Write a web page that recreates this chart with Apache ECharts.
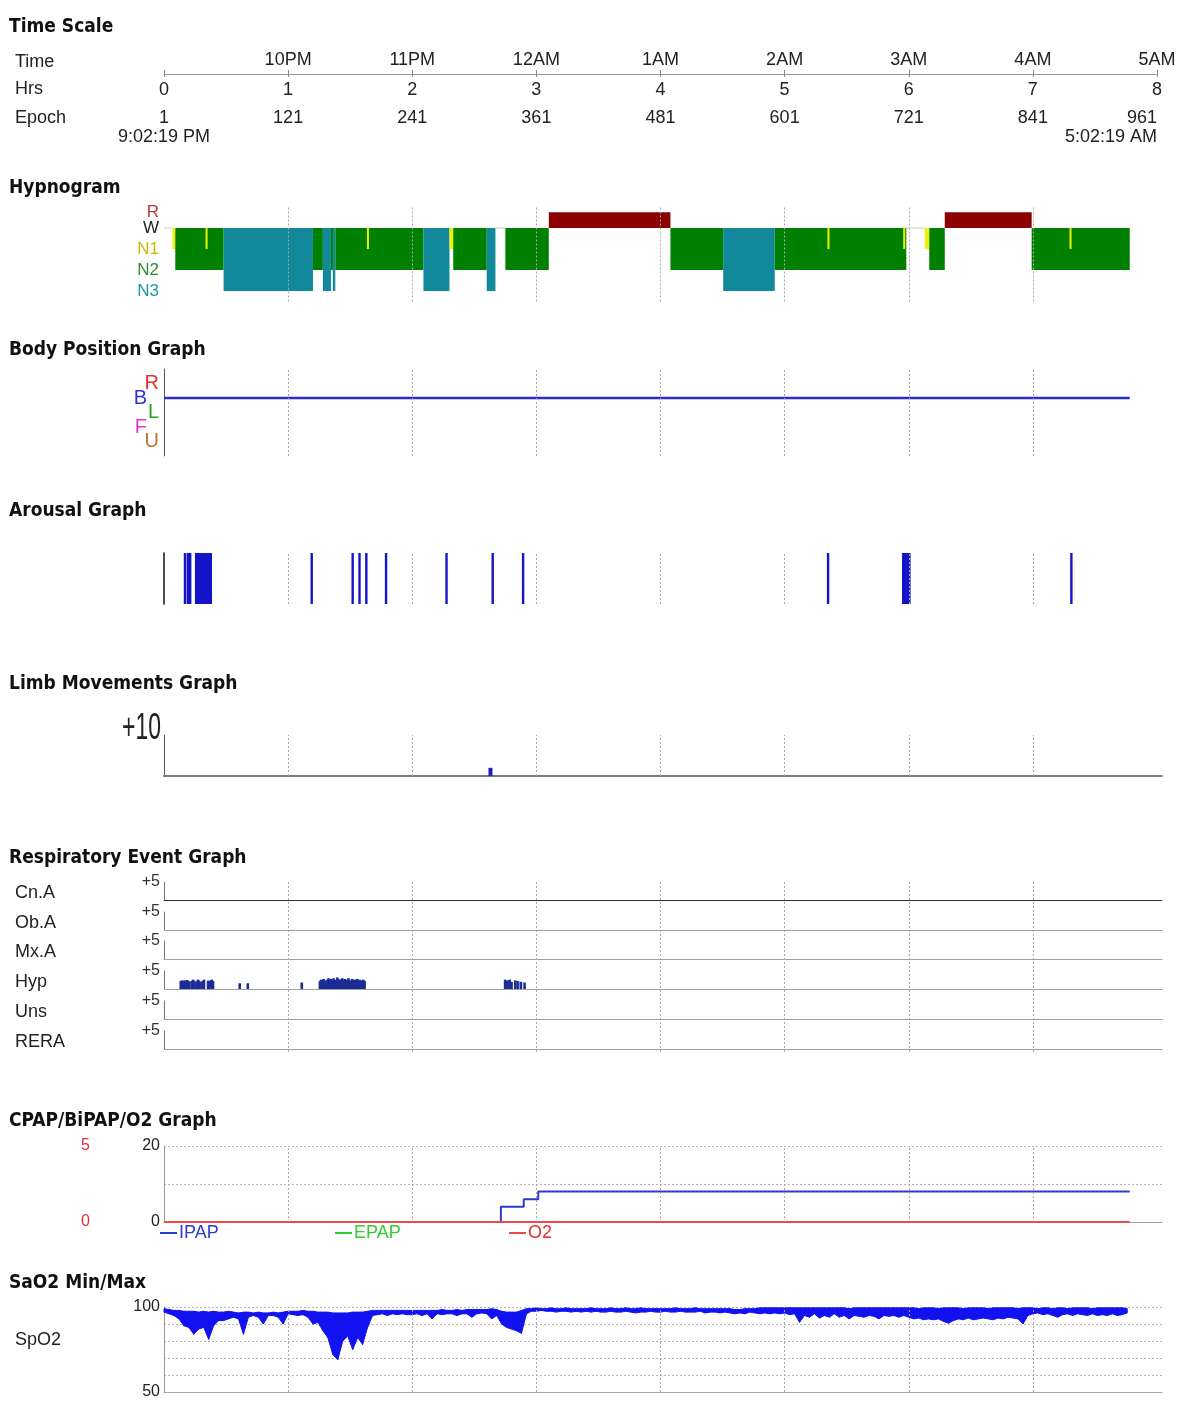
<!DOCTYPE html>
<html>
<head>
<meta charset="utf-8">
<script src="https://cdn.jsdelivr.net/npm/echarts@6/dist/echarts.min.js"></script>
<style>
  html, body { margin: 0; padding: 0; background: #fff; }
  #chart { width: 1183px; height: 1416px; }
</style>
</head>
<body>
<div id="chart"></div>
<script>
// ---------------- study data (hours from lights-out) ----------------
const hourTicks = [0, 1, 2, 3, 4, 5, 6, 7, 8];
const clockLabels = ['', '10PM', '11PM', '12AM', '1AM', '2AM', '3AM', '4AM', '5AM'];
const epochLabels = ['1', '121', '241', '361', '481', '601', '721', '841', '961'];
const startClock = '9:02:19 PM';
const endClock = '5:02:19 AM';
const hourGridLines = [1, 2, 3, 4, 5, 6, 7];

const panelTitles = ['Time Scale', 'Hypnogram', 'Body Position Graph', 'Arousal Graph',
  'Limb Movements Graph', 'Respiratory Event Graph', 'CPAP/BiPAP/O2 Graph', 'SaO2 Min/Max'];
const timeRowNames = ['Time', 'Hrs', 'Epoch'];

// sleep stages: name -> plotted level (W is the baseline, R sits above it)
const stageNames = ['R', 'W', 'N1', 'N2', 'N3'];
const stageLevels = [0.75, 0, -1, -2, -3];
// [stage, start hr, end hr]
const hypnogram = [
  ['W', 0, 0.068], ['N1', 0.068, 0.091], ['N2', 0.091, 0.48], ['N3', 0.48, 1.20],
  ['N2', 1.20, 1.28], ['N3', 1.28, 1.345], ['N2', 1.345, 1.36], ['N3', 1.36, 1.38],
  ['N2', 1.38, 2.09], ['N3', 2.09, 2.30], ['N1', 2.30, 2.33], ['N2', 2.33, 2.60],
  ['N3', 2.60, 2.67], ['W', 2.67, 2.75], ['N2', 2.75, 3.10], ['R', 3.10, 4.08],
  ['N2', 4.08, 4.505], ['N3', 4.505, 4.92], ['N2', 4.92, 5.98], ['W', 5.98, 6.13],
  ['N1', 6.13, 6.165], ['N2', 6.165, 6.29], ['R', 6.29, 6.99], ['N2', 6.99, 7.78]
];
// single-epoch N1 shifts marked inside the N2 stretches
const briefN1 = [[0.335, 0.345], [1.635, 1.645], [5.345, 5.355], [5.955, 5.965], [7.295, 7.305]];

// body position: levels U=0, F=1, L=2, B=3, R=4
const positionNames = ['U', 'F', 'L', 'B', 'R'];
const bodyPosition = [[0, 'B'], [7.78, 'B']];

// arousal onsets (hr)
const arousals = [0.169, 0.192, 0.211, 0.259, 0.268, 0.277, 0.286, 0.295, 0.304, 0.313,
  0.322, 0.332, 0.344, 0.352, 0.36, 0.368, 0.377, 1.19, 1.52, 1.575, 1.63, 1.789,
  2.276, 2.648, 2.893, 5.35, 5.955, 5.965, 5.975, 5.985, 5.995, 6.005, 7.31];

// limb movements [hr, count]
const limbMovements = [[2.63, 2]];

// respiratory events [hr, height]
const respRows = ['Cn.A', 'Ob.A', 'Mx.A', 'Hyp', 'Uns', 'RERA'];
const centralApneas = [];
const obstructiveApneas = [];
const mixedApneas = [];
const hypopneas = [
  [0.135, 2.2], [0.145, 2.4], [0.155, 2.0], [0.165, 2.4], [0.175, 2.2], [0.185, 2.5], [0.195, 2.3], [0.205, 2.1],
  [0.225, 2.3], [0.235, 2.6], [0.245, 2.2],
  [0.262, 2.0], [0.272, 2.6], [0.282, 2.4], [0.292, 2.0],
  [0.31, 2.2], [0.322, 2.6],
  [0.355, 2.3], [0.365, 2.0], [0.375, 2.4], [0.385, 2.6], [0.395, 2.2],
  [0.61, 1.6], [0.675, 1.6], [1.11, 1.8],
  [1.256, 2.2], [1.266, 2.6], [1.276, 2.4], [1.286, 2.8], [1.296, 2.4], [1.306, 2.0], [1.316, 2.6],
  [1.326, 3.0], [1.336, 2.4], [1.346, 2.8], [1.356, 2.2], [1.366, 3.0], [1.376, 2.6], [1.386, 2.4],
  [1.396, 3.2], [1.406, 2.8], [1.416, 2.2], [1.426, 2.6], [1.436, 3.0], [1.446, 2.4], [1.456, 2.8],
  [1.466, 2.2], [1.476, 2.6], [1.486, 3.0], [1.496, 2.4], [1.506, 2.0], [1.516, 2.8], [1.526, 2.4],
  [1.536, 2.6], [1.546, 2.2], [1.556, 2.8], [1.566, 2.4], [1.576, 2.6], [1.586, 2.2], [1.596, 2.4],
  [1.606, 2.6], [1.616, 2.2],
  [2.748, 2.6], [2.758, 2.2], [2.768, 2.4], [2.785, 2.6], [2.80, 2.0], [2.83, 2.4], [2.85, 2.2],
  [2.875, 2.0], [2.905, 1.8]
];
const unsureEvents = [];
const reraEvents = [];

// PAP / oxygen settings [hr, value]
const ipap = [[2.714, 0], [2.714, 4], [2.898, 6], [3.015, 8], [7.78, 8]];
const epap = [];
const o2Flow = [[0, 0], [7.78, 0]];

// SpO2 min/max per 0.04 hr bin, starting at 0 hr
const spo2BinHours = 0.04;
const spo2Max = [
  99, 98.5, 98, 98, 97.5, 97.5, 97.5, 97, 97.5, 97, 97.5, 97, 97, 97.5, 97, 96.5, 97, 97, 96.5, 97, 96.5, 96.5, 97, 96.5, 97,
  97.5, 97.5, 97.5, 98, 97.5, 97.5, 97, 97, 97, 96.5, 96.5, 96.5, 96.5, 97, 97, 97, 97.5, 98, 98, 98, 98, 98, 98, 98, 98,
  98, 98, 98, 98, 98, 98, 98.5, 98, 98, 98.5, 98, 98.5, 98.5, 98.5, 98.5, 98.5, 99, 98.5, 97.5, 97, 97, 97, 98, 99, 99,
  99.5, 99, 99, 99.5, 99, 99, 99.5, 99, 99, 99, 99, 99.5, 99, 99, 99, 99.5, 99, 99, 99.5, 99, 99, 99.5, 99, 99, 99,
  99, 99, 99, 99.5, 99, 99, 99, 99.5, 99, 99, 99, 99, 99, 99, 99, 98.5, 98.5, 99, 99, 99, 99.5, 99.5, 99.5, 99.5, 99.5,
  99.5, 99.5, 99.5, 99.5, 99.5, 99.5, 99.5, 99.5, 99.5, 99.5, 99.5, 99.5, 99.5, 99, 99.5, 99.5, 99.5, 99.5, 99.5, 99.5, 99.5, 99.5, 99.5, 99.5, 99.5,
  99.5, 99.5, 99, 99.5, 99.5, 99.5, 99, 99.5, 99.5, 99.5, 99.5, 99, 99.5, 99.5, 99.5, 99.5, 99, 99.5, 99.5, 99.5, 99.5, 99.5, 99, 99.5, 99.5,
  99.5, 99, 99.5, 99.5, 99, 99.5, 99.5, 99, 99.5, 99.5, 99.5, 99.5, 99, 99.5, 99.5, 99.5, 99.5, 99.5, 99.5, 99
];
const spo2Min = [
  97, 96, 95, 93, 89, 88, 84, 87, 88, 81, 89, 92, 92, 93, 94, 93, 84, 94, 95, 94, 90, 95, 95, 94, 90,
  96, 95.5, 95, 95.5, 94, 90, 91, 86, 82, 72, 69, 80, 83, 75, 82, 78, 88, 95, 95.5, 96, 95, 96, 95.5, 96, 95.5,
  95.5, 96, 95, 96, 93, 96, 95.5, 96, 96, 95, 96, 96, 94, 96, 96.5, 96, 93, 95, 90, 88, 87, 86, 84.5, 96, 97.5,
  97.5, 98, 97.5, 97.5, 97, 97.5, 97.5, 97, 97.5, 97, 97.5, 97, 97.5, 97, 97, 97.5, 97, 97, 97.5, 97, 96.5, 97, 97, 97.5, 97,
  97, 97.5, 97, 97, 97.5, 97, 97, 97, 97.5, 96.5, 97, 97, 96.5, 97, 96.5, 96, 96.5, 96, 97, 96.5, 96, 96.5, 96, 96.5, 96,
  96.5, 95.5, 96, 91, 95, 94, 96, 93.5, 95, 94, 96, 94, 95, 93, 95, 94.5, 94, 95, 94.5, 93, 95, 94.5, 95, 94, 95,
  94, 93, 93.5, 92.5, 93, 92.5, 93, 91.5, 90.5, 92, 93, 92.5, 93.5, 92.5, 93, 93.5, 93, 92.5, 93.5, 93, 94, 93.5, 93, 90, 95,
  96, 96.5, 95.5, 96, 95, 94, 95.5, 96, 95, 96, 95.5, 95, 96, 95, 95.5, 95, 96, 95, 95.5, 96.5
];

// ---------------- layout and styles ----------------
const FONT = '"Liberation Sans", Arial, sans-serif';
const TITLE_FONT = '"DejaVu Sans Condensed", "DejaVu Sans", sans-serif';
const PLOT_LEFT = 164;
const PLOT_WIDTH = 998;      // 0 .. 8.04 h
const X_MAX = 8.04;
const titleTops = [18, 179, 341, 502, 675, 849, 1112, 1274];
const timeRowTops = [53, 80, 109];
const respRowTops = [882, 912, 941, 971, 1001, 1031];

const stageColors = ['#8b0000', '#c8c8c8', '#eef200', '#008000', '#12899a'];
const stageLabelColors = { R: '#b23a3a', W: '#222222', N1: '#c9b800', N2: '#2f8f2f', N3: '#1a9aa0' };
const positionLabelColors = { R: '#e83030', B: '#3333cc', L: '#22aa22', F: '#dd33dd', U: '#b8742a' };
const DOT = [2, 2];

const grids = [], xAxes = [], yAxes = [], series = [], titles = [], graphics = [];

function addGrid(top, height, xOpts, yOpts) {
  const g = grids.length;
  grids.push({ left: PLOT_LEFT, top: top, width: PLOT_WIDTH, height: height,
    containLabel: false, outerBoundsMode: 'none' });
  xAxes.push(Object.assign({ gridIndex: g, type: 'value', min: 0, max: X_MAX, show: false }, xOpts || {}));
  yAxes.push(Object.assign({ gridIndex: g, type: 'value', position: 'left', splitLine: { show: false } }, yOpts || {}));
  return { x: xAxes.length - 1, y: yAxes.length - 1, g: g };
}
function baseLineX(color, width) {
  return { show: true, axisLine: { show: true, onZero: false, lineStyle: { color: color, width: width || 1 } },
    axisTick: { show: false }, axisLabel: { show: false }, splitLine: { show: false } };
}
function hourLines(ax) {
  series.push({ type: 'line', xAxisIndex: ax.x, yAxisIndex: ax.y, data: [], silent: true,
    markLine: { silent: true, symbol: ['none', 'none'], label: { show: false }, emphasis: { disabled: true },
      lineStyle: { color: '#a9a9a9', type: DOT, width: 1 },
      data: hourGridLines.map(function (h) { return { xAxis: h }; }) } });
}
function near(a, b) { return Math.abs(a - b) < 1e-6; }

// ---- titles & row names ----
panelTitles.forEach(function (t, i) {
  titles.push({ text: t, left: 9, top: titleTops[i], padding: 0,
    textStyle: { fontFamily: TITLE_FONT, fontWeight: 'bold', fontSize: 19, color: '#111' } });
});
function rowName(text, top) {
  titles.push({ text: text, left: 15, top: top, padding: 0,
    textStyle: { fontFamily: FONT, fontWeight: 'normal', fontSize: 18, color: '#222' } });
}
timeRowNames.forEach(function (t, i) { rowName(t, timeRowTops[i]); });
respRows.forEach(function (t, i) { rowName(t, respRowTops[i] + 2); });
rowName('SpO2', 1331);

// ---- time scale ----
const timeLabelStyle = { fontFamily: FONT, fontSize: 18, color: '#222' };
grids.push({ left: PLOT_LEFT, top: 73, width: 993, height: 1, containLabel: false, outerBoundsMode: 'none' });
const tg = grids.length - 1;
yAxes.push({ gridIndex: tg, type: 'value', show: false });
const timeAxisBase = { gridIndex: tg, type: 'value', min: 0, max: 8, interval: 1, splitLine: { show: false } };
xAxes.push(Object.assign({}, timeAxisBase, { position: 'top',
  axisLine: { show: true, lineStyle: { color: '#9c9c9c' } },
  axisTick: { show: true, length: 4, lineStyle: { color: '#888' } },
  axisLabel: Object.assign({ margin: 4, showMinLabel: true, showMaxLabel: true,
    formatter: function (v) { return clockLabels[hourTicks.indexOf(v)] || ''; } }, timeLabelStyle) }));
xAxes.push(Object.assign({}, timeAxisBase, { position: 'bottom',
  axisLine: { show: false }, axisTick: { show: true, length: 3, lineStyle: { color: '#888' } },
  axisLabel: Object.assign({ margin: 7, showMinLabel: true, showMaxLabel: true,
    formatter: function (v) { return String(v); } }, timeLabelStyle) }));
xAxes.push(Object.assign({}, timeAxisBase, { position: 'bottom', offset: 28,
  axisLine: { show: false }, axisTick: { show: false },
  axisLabel: Object.assign({ margin: 7, showMinLabel: true, showMaxLabel: true, alignMaxLabel: 'right',
    formatter: function (v) { return epochLabels[hourTicks.indexOf(v)] || ''; } }, timeLabelStyle) }));
xAxes.push(Object.assign({}, timeAxisBase, { position: 'bottom', offset: 47,
  axisLine: { show: false }, axisTick: { show: false },
  axisLabel: Object.assign({ margin: 7, showMinLabel: true, showMaxLabel: true, alignMaxLabel: 'right',
    formatter: function (v) { return v === 0 ? startClock : (v === 8 ? endClock : ''); } }, timeLabelStyle) }));

// ---- hypnogram ----
const stageRich = {};
stageNames.forEach(function (s) {
  stageRich[s] = { color: stageLabelColors[s], fontSize: 17, fontFamily: FONT };
});
const hypAx = addGrid(207, 94.5, null, {
  min: -3.5, max: 1, interval: 0.25,
  axisLine: { show: false }, axisTick: { show: false },
  axisLabel: { margin: 5, showMinLabel: true, showMaxLabel: true, rich: stageRich,
    formatter: function (v) {
      for (let i = 0; i < stageNames.length; i++) {
        if (near(v, stageLevels[i])) return '{' + stageNames[i] + '|' + stageNames[i] + '}';
      }
      return '';
    } }
});
hourLines(hypAx);
const stageData = hypnogram.map(function (seg) {
  const si = stageNames.indexOf(seg[0]);
  return [seg[1], seg[2], stageLevels[si], si];
}).concat(briefN1.map(function (b) {
  const si = stageNames.indexOf('N1');
  return [b[0], b[1], stageLevels[si], si];
}));
series.push({
  type: 'custom', xAxisIndex: hypAx.x, yAxisIndex: hypAx.y, silent: true,
  encode: { x: [0, 1], y: 2 },
  data: stageData,
  renderItem: function (params, api) {
    const s = api.value(0), e = api.value(1), lvl = api.value(2), si = api.value(3);
    const a = api.coord([s, 0]), b = api.coord([e, lvl]);
    if (lvl === 0) {
      return { type: 'line', shape: { x1: a[0], y1: a[1], x2: b[0], y2: a[1] },
        style: { stroke: stageColors[si], lineWidth: 1 } };
    }
    return { type: 'rect',
      shape: { x: a[0], y: Math.min(a[1], b[1]), width: Math.max(b[0] - a[0], 2), height: Math.abs(b[1] - a[1]) },
      style: { fill: stageColors[si] } };
  }
});

// ---- body position ----
const posRich = {};
positionNames.forEach(function (p) {
  posRich[p] = { color: positionLabelColors[p], fontSize: 20, fontFamily: FONT };
});
function posFormatter(shown) {
  return function (v) {
    const i = Math.round(v);
    if (near(v, i) && shown.indexOf(positionNames[i]) >= 0) return '{' + positionNames[i] + '|' + positionNames[i] + '}';
    return '';
  };
}
const bodyAx = addGrid(369, 87, null, {
  min: -1, max: 5, interval: 1,
  axisLine: { show: true, onZero: false, lineStyle: { color: '#555', width: 1 } }, axisTick: { show: false },
  axisLabel: { margin: 5, rich: posRich, formatter: posFormatter(['R', 'L', 'U']) }
});
yAxes.push({ gridIndex: bodyAx.g, type: 'value', position: 'left', offset: 0, min: -1, max: 5, interval: 1,
  splitLine: { show: false }, axisLine: { show: false }, axisTick: { show: false },
  axisLabel: { margin: 17, rich: posRich, formatter: posFormatter(['B', 'F']) } });
hourLines(bodyAx);
series.push({
  type: 'line', xAxisIndex: bodyAx.x, yAxisIndex: bodyAx.y, silent: true, symbol: 'none',
  lineStyle: { color: '#2a2ad8', width: 2.5 },
  data: bodyPosition.map(function (p) { return [p[0], positionNames.indexOf(p[1])]; })
});

// ---- arousals ----
const arAx = addGrid(553, 51, null, {
  min: 0, max: 1, axisLine: { show: true, onZero: false, lineStyle: { color: '#111', width: 1.5 } },
  axisTick: { show: false }, axisLabel: { show: false }
});
hourLines(arAx);
series.push({
  type: 'custom', xAxisIndex: arAx.x, yAxisIndex: arAx.y, silent: true,
  itemStyle: { color: '#1414c8' }, encode: { x: 0, y: 1 },
  data: arousals.map(function (t) { return [t, 1]; }),
  renderItem: function (params, api) {
    const top = api.coord([api.value(0), 1]), bot = api.coord([api.value(0), 0]);
    return { type: 'line', shape: { x1: top[0], y1: top[1], x2: bot[0], y2: bot[1] },
      style: { stroke: api.visual('color'), lineWidth: 2.4 } };
  }
});

function eventBars(width) {
  return function (params, api) {
    const x = api.value(0), h = api.value(1);
    const top = api.coord([x, h]), base = api.coord([x, 0]);
    return { type: 'rect', shape: { x: top[0] - width / 2, y: top[1], width: width, height: base[1] - top[1] },
      style: { fill: api.visual('color') } };
  };
}

// ---- limb movements ----
const limbAx = addGrid(735, 41, baseLineX('#7a7a7a', 2), {
  min: 0, max: 10, interval: 10,
  axisLine: { show: true, onZero: false, lineStyle: { color: '#555' } }, axisTick: { show: false },
  axisLabel: { show: false }
});
// tall, narrow scale label for the limb axis maximum
graphics.push({ type: 'text', x: 161, y: 729, scaleX: 0.62, silent: true,
  style: { text: '+10', font: '37px "Liberation Sans", Arial, sans-serif', fill: '#222',
    textAlign: 'right', textVerticalAlign: 'middle' } });
hourLines(limbAx);
series.push({ type: 'custom', xAxisIndex: limbAx.x, yAxisIndex: limbAx.y, silent: true,
  itemStyle: { color: '#2020c0' }, encode: { x: 0, y: 1 }, data: limbMovements, renderItem: eventBars(4) });

// ---- respiratory events ----
const respBg = addGrid(880, 172, null, { min: 0, max: 1, show: false });
hourLines(respBg);
const respData = [centralApneas, obstructiveApneas, mixedApneas, hypopneas, unsureEvents, reraEvents];
respRows.forEach(function (name, i) {
  const ax = addGrid(respRowTops[i], 18, baseLineX(i === 0 ? '#333' : '#a0a0a0', 1), {
    min: 0, max: 5, interval: 5,
    axisLine: { show: true, onZero: false, lineStyle: { color: '#777' } }, axisTick: { show: false },
    axisLabel: { margin: 4, showMaxLabel: true, fontFamily: FONT, fontSize: 16, color: '#333',
      formatter: function (v) { return v === 5 ? '+5' : ''; } }
  });
  series.push({ type: 'custom', name: name, xAxisIndex: ax.x, yAxisIndex: ax.y, silent: true,
    itemStyle: { color: '#1d2b95' }, encode: { x: 0, y: 1 }, data: respData[i], renderItem: eventBars(2.6) });
});

// ---- CPAP / BiPAP / O2 ----
const papAx = addGrid(1146, 76, baseLineX('#a0a0a0', 1), {
  min: 0, max: 20, interval: 10,
  axisLine: { show: true, onZero: false, lineStyle: { color: '#9a9a9a' } }, axisTick: { show: false },
  splitLine: { show: true, lineStyle: { color: '#b5b5b5', type: DOT } },
  axisLabel: { margin: 4, showMinLabel: true, showMaxLabel: true, fontFamily: FONT, fontSize: 16, color: '#222',
    formatter: function (v) { return v === 10 ? '' : String(v); } }
});
yAxes.push({ gridIndex: papAx.g, type: 'value', position: 'left', offset: 66,
  min: 0, max: 5, interval: 5, splitLine: { show: false }, axisLine: { show: false }, axisTick: { show: false },
  axisLabel: { showMinLabel: true, showMaxLabel: true, fontFamily: FONT, fontSize: 16, color: '#e03030' } });
const o2AxisIndex = yAxes.length - 1;
hourLines(papAx);
const papColors = { IPAP: '#2a3bd0', EPAP: '#33cc33', O2: '#f04848' };
series.push({ type: 'line', name: 'IPAP', xAxisIndex: papAx.x, yAxisIndex: papAx.y, silent: true,
  symbol: 'none', step: 'end', color: papColors.IPAP, lineStyle: { color: papColors.IPAP, width: 2 }, data: ipap });
series.push({ type: 'line', name: 'EPAP', xAxisIndex: papAx.x, yAxisIndex: papAx.y, silent: true,
  symbol: 'none', step: 'end', color: papColors.EPAP, lineStyle: { color: papColors.EPAP, width: 2 }, data: epap });
series.push({ type: 'line', name: 'O2', xAxisIndex: papAx.x, yAxisIndex: o2AxisIndex, silent: true,
  symbol: 'none', color: papColors.O2, lineStyle: { color: papColors.O2, width: 2 }, data: o2Flow });
const legendLefts = [160, 335, 509];
const legends = ['IPAP', 'EPAP', 'O2'].map(function (n, i) {
  return { data: [{ name: n, textStyle: { color: n === 'O2' ? '#e03030' : papColors[n] } }],
    left: legendLefts[i], top: 1224, icon: 'rect', itemWidth: 17, itemHeight: 2, itemGap: 0,
    selectedMode: false, padding: 0,
    textStyle: { fontFamily: FONT, fontSize: 18, padding: [0, 0, 0, -3] } };
});

// ---- SpO2 min/max band ----
const spo2Ax = addGrid(1307, 85, baseLineX('#a8a8a8', 1), {
  min: 50, max: 100, interval: 10,
  axisLine: { show: true, onZero: false, lineStyle: { color: '#9a9a9a' } }, axisTick: { show: false },
  splitLine: { show: true, lineStyle: { color: '#b5b5b5', type: DOT } },
  axisLabel: { margin: 4, showMinLabel: true, showMaxLabel: true, fontFamily: FONT, fontSize: 16, color: '#222',
    formatter: function (v) { return (v === 100 || v === 50) ? String(v) : ''; } }
});
hourLines(spo2Ax);
const spo2Blue = '#1212f0';
series.push({
  type: 'custom', name: 'SpO2', xAxisIndex: spo2Ax.x, yAxisIndex: spo2Ax.y, silent: true,
  encode: { x: 0, y: [1, 2] },
  data: spo2Min.map(function (v, i) { return [i * spo2BinHours, v, spo2Max[i]]; }),
  renderItem: function (params, api) {
    const i = params.dataIndex;
    if (i >= spo2Min.length - 1) return null;
    const t0 = api.value(0), t1 = (i + 1) * spo2BinHours;
    const pts = [
      api.coord([t0, api.value(2)]), api.coord([t1, spo2Max[i + 1]]),
      api.coord([t1, spo2Min[i + 1]]), api.coord([t0, api.value(1)])
    ];
    return { type: 'polygon', shape: { points: pts },
      style: { fill: spo2Blue, stroke: spo2Blue, lineWidth: 1 } };
  }
});

const chart = echarts.init(document.getElementById('chart'), null, { renderer: 'canvas' });
chart.setOption({
  backgroundColor: '#ffffff',
  animation: false,
  title: titles,
  legend: legends,
  grid: grids,
  xAxis: xAxes,
  yAxis: yAxes,
  graphic: graphics,
  series: series
});
</script>
</body>
</html>
